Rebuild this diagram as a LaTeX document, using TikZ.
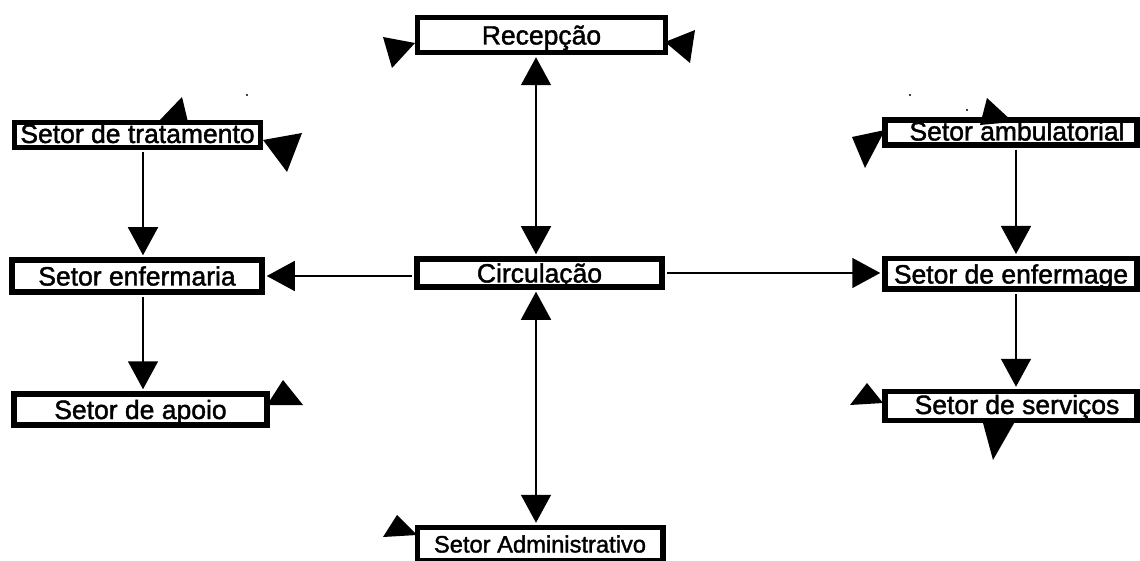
\documentclass[tikz,border=0pt]{standalone}
\usepackage{fontspec}
\setmainfont[FakeBold=1.6]{Liberation Sans}
\usetikzlibrary{arrows.meta}
\begin{document}
\begin{tikzpicture}[x=1pt,y=-1pt,
  box/.style={draw, line width=5.5pt, inner sep=0pt, text height=19pt, text depth=0pt,
    font=\fontsize{26.5}{30}\selectfont},
  thinbox/.style={box, text depth=3pt},
  link/.style={line width=1.5pt, shorten >=2pt, shorten <=2pt},
  arrowto/.style={-{Triangle[width=30pt,length=28pt]}},
  arrowboth/.style={{Triangle[width=30pt,length=28pt]}-{Triangle[width=30pt,length=28pt]}},
  stray/.style={fill=black}]
\useasboundingbox (0,0) rectangle (1140,561);

% boxes
\node[box, minimum width=248pt, minimum height=35pt] (rec) at (541.5,35) {Recepção};
\node[thinbox, minimum width=246pt, minimum height=25pt] (trat) at (137.5,135) {Setor de tratamento};
\node[box, minimum width=250pt, minimum height=32pt] (enfa) at (137,276) {Setor enfermaria};
\node[box, minimum width=253pt, minimum height=31pt] (apoio) at (140.5,409.5) {Setor de apoio};
\node[box, minimum width=245pt, minimum height=28pt] (circ) at (539.5,273) {Circulação};
\node[thinbox, minimum width=252pt, minimum height=25pt] (amb) at (1011,132.5) {\hspace*{12pt}Setor ambulatorial};
\node[box, minimum width=252pt, minimum height=30.5pt] (enfg) at (1011,274) {Setor de enfermage};
\node[thinbox, minimum width=252pt, minimum height=29pt] (serv) at (1011,406) {\hspace*{12pt}Setor de serviços};
\node[box, minimum width=245.5pt, minimum height=33pt, font=\fontsize{23.7}{28}\selectfont, text height=17pt] (adm) at (540,544) {Setor Administrativo};

% connector x positions
\coordinate (xl) at (143,0);
\coordinate (xm) at (536,0);
\coordinate (xr) at (1016,0);
\coordinate (yl) at (0,276);
\coordinate (yr) at (0,273);

% connectors
\draw[link, arrowboth] (rec.south -| xm) -- (circ.north -| xm);
\draw[link, arrowboth] (circ.south -| xm) -- (adm.north -| xm);
\draw[link, arrowto] (circ.west |- yl) -- (enfa.east |- yl);
\draw[link, arrowto] (circ.east |- yr) -- (enfg.west |- yr);
\draw[link, arrowto] (trat.south -| xl) -- (enfa.north -| xl);
\draw[link, arrowto] (enfa.south -| xl) -- (apoio.north -| xl);
\draw[link, arrowto] (amb.south -| xr) -- (enfg.north -| xr);
\draw[link, arrowto] (enfg.south -| xr) -- (serv.north -| xr);

% stray arrowheads
\fill[stray] (383,37) -- (415,43) -- (392,68) -- cycle;
\fill[stray] (665,42) -- (695,30) -- (690,63) -- cycle;
\fill[stray] (158,122) -- (182,97) -- (188,122) -- cycle;
\fill[stray] (263,140) -- (302,133) -- (287,172) -- cycle;
\fill[stray] (267,405) -- (283,380) -- (303,405) -- cycle;
\fill[stray] (980,125) -- (987,98) -- (1013,122) -- cycle;
\fill[stray] (852,137) -- (885,130) -- (865,168) -- cycle;
\fill[stray] (850,405) -- (867,383) -- (883,403) -- cycle;
\fill[stray] (983,423) -- (1017,418) -- (993,460) -- cycle;
\fill[stray] (383,537) -- (397,515) -- (417,535) -- cycle;

% specks
\fill[stray] (247,95) circle (1.2);
\fill[stray] (910,95) circle (1.2);
\fill[stray] (967,110) circle (1.2);
\end{tikzpicture}
\end{document}
